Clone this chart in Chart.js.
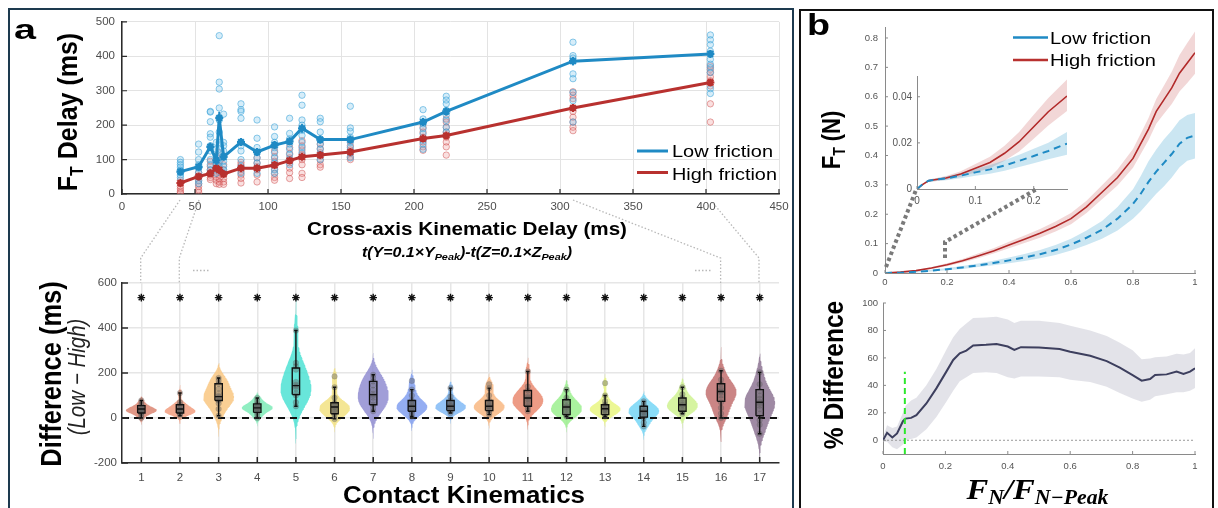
<!DOCTYPE html>
<html><head><meta charset="utf-8">
<script src="https://cdn.jsdelivr.net/npm/chart.js@4.4.1/dist/chart.umd.min.js"></script>
<style>
html,body{margin:0;padding:0;background:#fff;}
#stage{position:relative;width:1218px;height:508px;overflow:hidden;background:#fff;}
canvas{position:absolute;}
.frame{position:absolute;box-sizing:border-box;}
svg{position:absolute;left:0;top:0;pointer-events:none;}
</style></head><body>
<div id="stage">
<div class="frame" style="left:8px;top:8px;width:786px;height:560px;border:2px solid #1d3a4f;"></div>
<div class="frame" style="left:799px;top:9px;width:415px;height:560px;border:2px solid #111;"></div>
<canvas id="a1" width="732" height="212" style="left:70px;top:8px"></canvas>
<canvas id="a2" width="732" height="215" style="left:70px;top:270px"></canvas>
<canvas id="b1" width="370" height="280" style="left:845px;top:15px"></canvas>
<canvas id="b2" width="370" height="186" style="left:845px;top:292px"></canvas>
<canvas id="bi" width="195" height="146" style="left:880px;top:64px"></canvas>
<svg width="1218" height="508" font-family="'Liberation Sans', Arial, sans-serif">
  <!-- panel a connectors -->
  <g fill="none" stroke="#b8b8b8" stroke-width="1.3" stroke-dasharray="1.5 2">
    <polyline points="180,200 140.7,258 140.7,283"/>
    <polyline points="199,200 179.3,258 179.3,283"/>
    <polyline points="573,200 720.6,258 720.6,283"/>
    <polyline points="713,203 759,258 759,283"/>
    <line x1="193" y1="270.5" x2="210" y2="270.5"/>
    <line x1="695" y1="270.5" x2="712" y2="270.5"/>
  </g>
  <!-- panel b connectors -->
  <g fill="none" stroke="#7a7a7a" stroke-width="4" stroke-dasharray="3.5 3">
    <polyline points="886,267 916,190"/>
    <polyline points="945,258 945,242 1037,189"/>
  </g>
  <!-- panel letters -->
  <text x="14" y="39" font-size="28" font-weight="bold" textLength="22" lengthAdjust="spacingAndGlyphs">a</text>
  <text x="807" y="35" font-size="30" font-weight="bold" textLength="23" lengthAdjust="spacingAndGlyphs">b</text>
  <!-- panel a titles -->
  <g transform="translate(77,112) scale(1.13,1) rotate(-90)">
    <text x="0" y="0" text-anchor="middle" font-size="25" font-weight="bold">F<tspan font-size="16" dy="5">T</tspan><tspan dy="-5"> Delay (ms)</tspan></text>
  </g>
  <text x="467" y="235" text-anchor="middle" font-size="18.6" font-weight="bold" textLength="320" lengthAdjust="spacingAndGlyphs">Cross-axis Kinematic Delay (ms)</text>
  <text x="467" y="257" text-anchor="middle" font-size="14" font-weight="bold" font-style="italic" textLength="210" lengthAdjust="spacingAndGlyphs">t(Y=0.1×Y<tspan font-size="9.5" dy="3">Peak</tspan><tspan dy="-3">)-t(Z=0.1×Z</tspan><tspan font-size="9.5" dy="3">Peak</tspan><tspan dy="-3">)</tspan></text>
  <line x1="637" y1="151" x2="668" y2="151" stroke="#1f8ac4" stroke-width="3"/>
  <line x1="637" y1="172.5" x2="668" y2="172.5" stroke="#b8312f" stroke-width="3"/>
  <text x="672" y="157" font-size="17" textLength="101" lengthAdjust="spacingAndGlyphs">Low friction</text>
  <text x="672" y="179.5" font-size="17" textLength="105" lengthAdjust="spacingAndGlyphs">High friction</text>
  <g transform="translate(61,374) scale(1.13,1) rotate(-90)">
    <text x="0" y="0" text-anchor="middle" font-size="25.5" font-weight="bold">Difference (ms)</text>
  </g>
  <g transform="translate(84.5,377) scale(1.13,1) rotate(-90)">
    <text x="0" y="0" text-anchor="middle" font-size="20.5" font-style="italic" fill="#222">(Low − High)</text>
  </g>
  <text x="464" y="503" text-anchor="middle" font-size="23" font-weight="bold" textLength="242" lengthAdjust="spacingAndGlyphs">Contact Kinematics</text>
  <!-- panel b titles -->
  <line x1="1013" y1="37.5" x2="1048" y2="37.5" stroke="#1f8ac4" stroke-width="2.5"/>
  <line x1="1013" y1="60" x2="1048" y2="60" stroke="#b8312f" stroke-width="2.5"/>
  <text x="1050" y="43.5" font-size="17" textLength="101" lengthAdjust="spacingAndGlyphs">Low friction</text>
  <text x="1050" y="66" font-size="17" textLength="106" lengthAdjust="spacingAndGlyphs">High friction</text>
  <g transform="translate(840,140) scale(1.13,1) rotate(-90)">
    <text x="0" y="0" text-anchor="middle" font-size="22" font-weight="bold">F<tspan font-size="14" dy="4">T</tspan><tspan dy="-4"> (N)</tspan></text>
  </g>
  <g transform="translate(843,375) scale(1.13,1) rotate(-90)">
    <text x="0" y="0" text-anchor="middle" font-size="24.5" font-weight="bold">% Difference</text>
  </g>
  <text x="1037.5" y="499" text-anchor="middle" font-family="'Liberation Serif', 'DejaVu Serif', serif" font-size="30" font-weight="bold" font-style="italic" textLength="142" lengthAdjust="spacingAndGlyphs">F<tspan font-size="20" dy="5">N</tspan><tspan dy="-5">/F</tspan><tspan font-size="20" dy="5">N−Peak</tspan></text>
</svg>
</div>
<script>
// ---------------- Panel a (top): F_T delay vs cross-axis kinematic delay ----------------
const kinDelay = [40, 52.5, 60.5, 64.6, 66.6, 69.6, 81.5, 92.5, 104.5, 114.8, 123.3, 135.8, 156.4, 206.2, 222.1, 308.9, 403];
const lowMean  = [65, 79, 137, 98, 221, 108, 151, 122, 142, 153, 191, 158, 158, 209, 240, 386, 407];
const highMean = [32, 51, 60, 75, 70, 58, 75, 75, 84, 97, 108, 113, 122, 161, 170, 250, 324];
const lowSE  = [10, 11, 12, 12, 18, 11, 11, 11, 11, 11, 12, 11, 11, 11, 11, 12, 11];
const highSE = [7, 8, 8, 9, 10, 8, 8, 8, 8, 8, 9, 8, 8, 8, 8, 9, 8];
const lowPts = [
  [100, 92, 85, 78, 70, 62, 55, 48],
  [145, 122, 100, 85, 75, 62, 50, 38, 30],
  [240, 238, 210, 175, 165, 140, 125, 100, 85, 70, 60],
  [150, 130, 110, 95, 85, 70, 60],
  [460, 325, 305, 250, 215, 180, 150, 130, 110, 90, 80],
  [232, 150, 140, 125, 110, 95, 80, 70, 60],
  [262, 245, 240, 220, 150, 140, 125, 100, 80, 60],
  [215, 162, 135, 120, 105, 90, 75, 60],
  [195, 167, 150, 135, 120, 105, 90, 70, 60],
  [220, 176, 160, 145, 130, 115, 100, 85],
  [287, 258, 215, 200, 185, 170, 150, 135, 120],
  [220, 210, 180, 160, 145, 130, 115, 100],
  [255, 192, 182, 165, 150, 135, 120, 105],
  [245, 218, 204, 190, 175, 156, 145, 130],
  [284, 273, 262, 243, 229, 214, 194, 180],
  [441, 402, 395, 349, 335, 295, 271, 209],
  [462, 448, 434, 415, 391, 377, 367, 353, 306, 292]
];
const highPts = [
  [40, 30, 22, 15, 8, 3],
  [62, 48, 40, 30, 22, 12, 5],
  [95, 80, 70, 62, 55, 48, 42],
  [110, 90, 75, 60, 50, 40, 30],
  [120, 95, 80, 65, 55, 45, 35, 28],
  [85, 70, 58, 45, 35, 28],
  [92, 85, 75, 65, 55, 45, 32],
  [105, 90, 80, 70, 55, 35],
  [125, 108, 95, 85, 72, 60, 48, 40],
  [135, 118, 105, 90, 75, 62, 45],
  [155, 140, 128, 115, 100, 85, 60, 48],
  [145, 132, 120, 110, 98, 85, 78],
  [155, 140, 128, 118, 108, 100],
  [194, 180, 165, 151, 137, 127],
  [218, 209, 194, 180, 165, 151, 137, 113],
  [297, 287, 277, 240, 223, 209, 194, 184],
  [372, 362, 353, 340, 329, 314, 262, 209]
];
const aTopXTicks = [0, 50, 100, 150, 200, 250, 300, 350, 400, 450];
const aTopYTicks = [0, 100, 200, 300, 400, 500];

// ---------------- Panel a (bottom): violins of Low - High difference ----------------
const catIdx = [1, 2, 3, 4, 5, 6, 7, 8, 9, 10, 11, 12, 13, 14, 15, 16, 17];
const diffPts = [
  [0, 12, 20, 24, 28, 30, 32, 35, 38, 40, 44, 48, 55, 62, 78],
  [10, 18, 22, 25, 28, 30, 35, 40, 45, 50, 59, 70, 111],
  [10, 40, 65, 78, 85, 92, 98, 110, 130, 152, 165, 178],
  [0, 15, 25, 32, 38, 42, 45, 48, 52, 58, 63, 75, 89],
  [52, 70, 100, 110, 130, 140, 148, 160, 215, 230, 245, 389],
  [-4, 10, 20, 28, 35, 42, 49, 55, 62, 68, 90, 137, 185],
  [30, 45, 60, 75, 90, 100, 108, 125, 145, 163, 178, 192],
  [7, 20, 30, 38, 45, 50, 55, 62, 70, 78, 100, 126, 165],
  [22, 30, 35, 42, 48, 52, 55, 60, 68, 78, 95, 133],
  [15, 25, 33, 40, 46, 52, 56, 62, 70, 78, 100, 133, 150],
  [30, 42, 52, 62, 72, 82, 89, 95, 105, 122, 140, 207],
  [7, 12, 18, 28, 38, 45, 50, 55, 65, 78, 90, 126],
  [7, 15, 22, 30, 35, 40, 43, 48, 55, 60, 75, 100, 155],
  [-37, -20, 0, 8, 18, 26, 30, 35, 42, 50, 60, 74],
  [19, 28, 35, 45, 52, 58, 62, 70, 80, 89, 105, 137],
  [0, 20, 45, 70, 85, 100, 112, 118, 125, 135, 150, 170, 210],
  [-70, -30, -10, 20, 40, 55, 65, 72, 85, 100, 120, 150, 203]
];
const boxQ1   = [22, 22, 78, 25, 104, 19, 59, 30, 33, 33, 52, 15, 15, 4, 30, 74, 10];
const boxMed  = [40, 40, 95, 45, 144, 49, 104, 52, 52, 52, 89, 49, 41, 30, 59, 118, 70];
const boxQ3   = [55, 59, 152, 63, 222, 68, 163, 78, 78, 78, 122, 81, 59, 52, 89, 152, 126];
const whiskLo = [0, 10, 10, 0, 52, -4, 30, 7, 22, 15, 30, 7, 7, -37, 19, 0, -70];
const whiskHi = [78, 111, 178, 89, 389, 137, 192, 126, 133, 133, 207, 126, 100, 74, 137, 210, 203];
const sigStarY = 535;
const violinColors = ['#d9806b', '#f29a7a', '#f9c47c', '#78eab4', '#47e0d2', '#f2e07c', '#8c89cf', '#7c9bef', '#7cb7f5',
                      '#f8b57c', '#e9856a', '#97ef8a', '#e8f57c', '#70d4f5', '#cdf28c', '#c06a6a', '#8a7090'];
const aBotYTicks = [-200, 0, 200, 400, 600];

// ---------------- Panel b (top): F_T vs F_N/F_N-peak ----------------
const fnX = [0, 0.05, 0.1, 0.15, 0.2, 0.25, 0.3, 0.35, 0.4, 0.45, 0.5, 0.55, 0.6, 0.65, 0.7, 0.75, 0.8, 0.825, 0.85, 0.875, 0.9, 0.925, 0.95, 0.975, 1.0];
const highFT   = [0, 0.003, 0.008, 0.017, 0.028, 0.042, 0.058, 0.075, 0.095, 0.115, 0.135, 0.158, 0.185, 0.225, 0.275, 0.325, 0.39, 0.44, 0.49, 0.55, 0.59, 0.63, 0.68, 0.715, 0.75];
const highFTup = [0, 0.004, 0.01, 0.02, 0.033, 0.048, 0.066, 0.084, 0.106, 0.128, 0.15, 0.175, 0.204, 0.246, 0.299, 0.352, 0.422, 0.475, 0.528, 0.592, 0.638, 0.685, 0.742, 0.783, 0.822];
const highFTlo = [0, 0.002, 0.006, 0.014, 0.023, 0.036, 0.05, 0.066, 0.084, 0.102, 0.12, 0.141, 0.166, 0.204, 0.251, 0.298, 0.358, 0.405, 0.452, 0.508, 0.542, 0.575, 0.618, 0.647, 0.678];
const lowFT    = [0, 0.001, 0.004, 0.008, 0.013, 0.019, 0.026, 0.034, 0.043, 0.053, 0.064, 0.078, 0.097, 0.12, 0.147, 0.185, 0.235, 0.27, 0.31, 0.345, 0.375, 0.405, 0.44, 0.46, 0.468];
const lowFTup  = [0, 0.002, 0.006, 0.011, 0.017, 0.024, 0.032, 0.042, 0.053, 0.065, 0.078, 0.095, 0.117, 0.145, 0.177, 0.225, 0.285, 0.33, 0.38, 0.42, 0.455, 0.485, 0.52, 0.538, 0.545];
const lowFTlo  = [0, 0, 0.002, 0.005, 0.009, 0.014, 0.02, 0.026, 0.033, 0.041, 0.05, 0.061, 0.077, 0.095, 0.117, 0.145, 0.185, 0.21, 0.24, 0.27, 0.295, 0.325, 0.36, 0.382, 0.39];
const bTopXTicks = [0, 0.2, 0.4, 0.6, 0.8, 1];
const bTopYTicks = [0, 0.1, 0.2, 0.3, 0.4, 0.5, 0.6, 0.7, 0.8];

// inset (zoom on the start of the curves)
const insX = [0, 0.01, 0.02, 0.03, 0.05, 0.075, 0.1, 0.125, 0.15, 0.175, 0.2, 0.225, 0.257];
const insHigh   = [0, 0.002, 0.0036, 0.004, 0.0048, 0.0065, 0.009, 0.0115, 0.0155, 0.0205, 0.027, 0.0335, 0.0403];
const insHighUp = [0, 0.0023, 0.0041, 0.0046, 0.0056, 0.0077, 0.0108, 0.014, 0.0188, 0.0247, 0.0322, 0.0395, 0.0475];
const insHighLo = [0, 0.0017, 0.0031, 0.0034, 0.004, 0.0053, 0.0072, 0.009, 0.0122, 0.0163, 0.0218, 0.0275, 0.0338];
const insLow    = [0, 0.0022, 0.0036, 0.004, 0.0046, 0.0058, 0.0072, 0.0085, 0.0102, 0.0122, 0.0143, 0.0165, 0.0197];
const insLowUp  = [0, 0.0025, 0.0041, 0.0046, 0.0054, 0.0069, 0.0087, 0.0104, 0.0125, 0.0149, 0.0174, 0.0201, 0.0247];
const insLowLo  = [0, 0.0019, 0.0031, 0.0034, 0.0038, 0.0047, 0.0057, 0.0066, 0.0079, 0.0095, 0.0112, 0.0129, 0.0149];
const insXTicks = [0, 0.1, 0.2];
const insYTicks = [0, 0.02, 0.04];

// ---------------- Panel b (bottom): % difference ----------------
const pdX = [0, 0.013, 0.03, 0.045, 0.064, 0.072, 0.09, 0.107, 0.139, 0.171, 0.203, 0.225, 0.246, 0.267, 0.289, 0.33, 0.364, 0.4, 0.421, 0.442, 0.5, 0.566, 0.6, 0.664, 0.717, 0.759, 0.8, 0.829, 0.856, 0.872, 0.909, 0.941, 0.963, 0.984, 1.0];
const pdMean = [0, 5.4, 2, 5, 13.9, 15.8, 16.3, 18.3, 26.8, 37.8, 50, 58.5, 63.4, 65.3, 69, 69.5, 70.2, 68.3, 65.8, 67.8, 67.5, 66.5, 64.5, 61.6, 57.7, 52.9, 47.5, 43.4, 44.6, 47.5, 48, 50, 48.3, 50, 52.4];
const pdUp   = [2, 11, 9, 10, 20, 25, 29, 31, 40, 52, 66, 75, 81, 85, 89, 89.5, 90, 88, 85.5, 87, 87, 85.5, 83.5, 80, 76, 71, 65.5, 59, 59.5, 60.5, 61, 63, 62.5, 63.5, 67];
const pdLo   = [-1, -1, -5, -6.5, -3, 0, 1, 2, 8, 17, 28, 36, 43, 46, 49, 49.5, 49, 46, 45, 46.5, 46.5, 46, 44, 42.5, 39, 34.5, 30.5, 28, 29.5, 32, 33.5, 35, 35, 36, 38];
const greenMarkX = 0.07, greenMarkTop = 50;
const bBotXTicks = [0, 0.2, 0.4, 0.6, 0.8, 1];
const bBotYTicks = [0, 20, 40, 60, 80, 100];

// ---------------- helpers ----------------
const BLUE = '#1f8ac4', RED = '#b8312f';
const GAP = () => ({x: NaN, y: NaN});
const pairs = (xs, ys) => xs.map((x, i) => ({x: x, y: ys[i]}));
function groupPts(xs, groups) { const o = []; groups.forEach((g, i) => g.forEach(v => o.push({x: xs[i], y: v}))); return o; }
function errSegs(xs, m, e) { const o = []; xs.forEach((x, i) => { o.push({x: x, y: m[i] - e[i]}, {x: x, y: m[i] + e[i]}, GAP()); }); return o; }
function quant(s, p) { const k = (s.length - 1) * p, f = Math.floor(k), c = Math.ceil(k); return s[f] + (s[c] - s[f]) * (k - f); }
function violinShape(cx, data, halfW) {
  const s = [...data].sort((a, b) => a - b), n = s.length;
  const med = quant(s, 0.5);
  const mad = quant(s.map(v => Math.abs(v - med)).sort((a, b) => a - b), 0.5);
  const h = (mad / 0.6745) * Math.pow(4 / (3 * n), 0.2);
  const lo = s[0] - 3 * h, hi = s[n - 1] + 3 * h, N = 140;
  const ys = [], ds = [];
  for (let k = 0; k < N; k++) {
    const y = lo + (hi - lo) * k / (N - 1); let d = 0;
    for (const p of data) { const z = (y - p) / h; d += Math.exp(-0.5 * z * z); }
    ys.push(y); ds.push(d);
  }
  const m = Math.max(...ds);
  const right = ys.map((y, k) => ({x: cx + halfW * ds[k] / m, y: y}));
  const left = ys.map((y, k) => ({x: cx - halfW * ds[k] / m, y: y})).reverse();
  return right.concat(left);
}
function boxSegs(bw, cw) {
  const o = [];
  catIdx.forEach((c, i) => {
    o.push({x: c - bw, y: boxQ1[i]}, {x: c + bw, y: boxQ1[i]}, {x: c + bw, y: boxQ3[i]}, {x: c - bw, y: boxQ3[i]}, {x: c - bw, y: boxQ1[i]}, GAP());
    o.push({x: c - bw, y: boxMed[i]}, {x: c + bw, y: boxMed[i]}, GAP());
    o.push({x: c, y: boxQ3[i]}, {x: c, y: whiskHi[i]}, GAP(), {x: c - cw, y: whiskHi[i]}, {x: c + cw, y: whiskHi[i]}, GAP());
    o.push({x: c, y: boxQ1[i]}, {x: c, y: whiskLo[i]}, GAP(), {x: c - cw, y: whiskLo[i]}, {x: c + cw, y: whiskLo[i]}, GAP());
  });
  return o;
}
function hexA(hex, a) { const n = parseInt(hex.slice(1), 16); return `rgba(${n >> 16},${(n >> 8) & 255},${n & 255},${a})`; }
const fmt = v => String(+(+v).toFixed(4));

const inTicks = {
  id: 'inTicks',
  afterDraw(chart, args, opts) {
    if (!opts || !opts.len) return;
    const ctx = chart.ctx, a = chart.chartArea, xs = chart.scales.x, ys = chart.scales.y;
    ctx.save(); ctx.strokeStyle = opts.color; ctx.lineWidth = opts.width || 1; ctx.beginPath();
    xs.ticks.forEach(t => { const p = xs.getPixelForValue(t.value); ctx.moveTo(p, a.bottom); ctx.lineTo(p, a.bottom - opts.len); });
    ys.ticks.forEach(t => { const p = ys.getPixelForValue(t.value); ctx.moveTo(a.left, p); ctx.lineTo(a.left + opts.len, p); });
    ctx.stroke(); ctx.restore();
  }
};
Chart.register(inTicks);
Chart.defaults.font.family = "'Liberation Sans', Arial, sans-serif";

function axis(o) {
  return {
    type: 'linear', min: o.min, max: o.max,
    afterBuildTicks: s => { s.ticks = o.ticks.map(v => ({value: v})); },
    afterFit: s => { if (o.w != null) s.width = o.w; if (o.h != null) s.height = o.h; },
    grid: {display: !!o.grid, color: o.grid || 'transparent', lineWidth: o.gridW || 1, drawTicks: false},
    border: {display: true, color: o.border, width: o.borderW || 1},
    ticks: {padding: o.pad, font: {size: o.fs}, color: o.color || '#4d4d4d', maxRotation: 0, autoSkip: false, callback: v => fmt(v)}
  };
}
function baseOptions(pad, xAx, yAx, tickOpts) {
  return {
    responsive: false, animation: false, devicePixelRatio: 1,
    layout: {padding: pad},
    plugins: {legend: {display: false}, tooltip: {enabled: false}, inTicks: tickOpts},
    elements: {line: {tension: 0}},
    scales: {x: xAx, y: yAx}
  };
}

// ---------- chart a1 ----------
new Chart(document.getElementById('a1'), {
  type: 'scatter',
  data: {datasets: [
    {data: errSegs(kinDelay, lowMean, lowSE), showLine: true, borderColor: BLUE, borderWidth: 2, pointRadius: 0, order: 1},
    {data: errSegs(kinDelay, highMean, highSE), showLine: true, borderColor: RED, borderWidth: 2, pointRadius: 0, order: 1},
    {data: pairs(kinDelay, lowMean), showLine: true, borderColor: BLUE, backgroundColor: BLUE, borderWidth: 3, pointStyle: 'star', pointRadius: 4, pointBorderWidth: 2.2, order: 2},
    {data: pairs(kinDelay, highMean), showLine: true, borderColor: RED, backgroundColor: RED, borderWidth: 3, pointStyle: 'star', pointRadius: 4, pointBorderWidth: 2.2, order: 3},
    {data: groupPts(kinDelay, lowPts), pointRadius: 3.2, backgroundColor: 'rgba(120,195,235,0.3)', borderColor: 'rgba(55,160,215,0.55)', borderWidth: 1, order: 4},
    {data: groupPts(kinDelay, highPts), pointRadius: 3.2, backgroundColor: 'rgba(235,130,130,0.25)', borderColor: 'rgba(205,80,80,0.5)', borderWidth: 1, order: 5}
  ]},
  options: baseOptions({top: 13, right: 23, left: 0, bottom: 0},
    axis({min: 0, max: 450, ticks: aTopXTicks, h: 26, grid: '#e3e3e3', border: '#2b2b2b', borderW: 1.5, pad: 6, fs: 11.5}),
    axis({min: 0, max: 500, ticks: aTopYTicks, w: 52, grid: '#e3e3e3', border: '#2b2b2b', borderW: 1.5, pad: 7, fs: 11.5}),
    {len: 5, color: '#2b2b2b', width: 1.2})
});

// ---------- chart a2 ----------
const violinSets = catIdx.map((c, i) => ({
  data: violinShape(c, diffPts[i], 0.4), showLine: true, fill: 'shape', borderWidth: 0,
  backgroundColor: hexA(violinColors[i], 0.82), borderColor: 'transparent', pointRadius: 0, order: 10
}));
new Chart(document.getElementById('a2'), {
  type: 'scatter',
  data: {datasets: [
    {data: catIdx.map(c => ({x: c, y: sigStarY})), pointStyle: 'star', pointRadius: 3.8, borderColor: '#111', borderWidth: 1.4, order: 0},
    {data: boxSegs(0.095, 0.045), showLine: true, borderColor: '#111', borderWidth: 1.4, pointRadius: 0, order: 1},
    {data: groupPts(catIdx, diffPts), pointRadius: 2.8, backgroundColor: 'rgba(95,95,95,0.4)', borderColor: 'rgba(80,80,80,0.3)', borderWidth: 0.5, order: 2},
    {data: [{x: 0.5, y: 0}, {x: 17.5, y: 0}], showLine: true, borderColor: '#111', borderWidth: 2, borderDash: [7, 5], pointRadius: 0, order: 3},
    ...violinSets
  ]},
  options: baseOptions({top: 13, right: 23, left: 0, bottom: 0},
    axis({min: 0.5, max: 17.5, ticks: catIdx, h: 22, grid: '#e6e6e6', gridW: 1.5, border: '#2b2b2b', borderW: 1.5, pad: 8, fs: 11.5}),
    axis({min: -200, max: 600, ticks: aBotYTicks, w: 52, grid: '#e6e6e6', gridW: 1.5, border: '#2b2b2b', borderW: 1.5, pad: 5, fs: 11.5}),
    {len: 6, color: '#2b2b2b', width: 1.5})
});

// ---------- chart b1 ----------
new Chart(document.getElementById('b1'), {
  type: 'scatter',
  data: {datasets: [
    {data: pairs(fnX, highFTup), showLine: true, borderWidth: 0, pointRadius: 0, order: 5},
    {data: pairs(fnX, highFTlo), showLine: true, borderWidth: 0, pointRadius: 0, fill: '-1', backgroundColor: 'rgba(205,95,95,0.25)', order: 5},
    {data: pairs(fnX, lowFTup), showLine: true, borderWidth: 0, pointRadius: 0, order: 4},
    {data: pairs(fnX, lowFTlo), showLine: true, borderWidth: 0, pointRadius: 0, fill: '-1', backgroundColor: 'rgba(70,165,210,0.28)', order: 4},
    {data: pairs(fnX, highFT), showLine: true, borderColor: '#b22a2a', borderWidth: 1.6, pointRadius: 0, order: 1},
    {data: pairs(fnX, lowFT), showLine: true, borderColor: BLUE, borderWidth: 2, borderDash: [7, 5], pointRadius: 0, order: 0}
  ]},
  options: baseOptions({top: 12, right: 20, left: 0, bottom: 0},
    axis({min: 0, max: 1, ticks: bTopXTicks, h: 22, border: '#8a8a8a', pad: 4, fs: 9.5, color: '#555'}),
    axis({min: 0, max: 0.835, ticks: bTopYTicks, w: 40, border: '#8a8a8a', pad: 7, fs: 9.5, color: '#555'}),
    {len: 3, color: '#8a8a8a', width: 1})
});

// ---------- chart bi (inset) ----------
new Chart(document.getElementById('bi'), {
  type: 'scatter',
  data: {datasets: [
    {data: pairs(insX, insHighUp), showLine: true, borderWidth: 0, pointRadius: 0, order: 5},
    {data: pairs(insX, insHighLo), showLine: true, borderWidth: 0, pointRadius: 0, fill: '-1', backgroundColor: 'rgba(205,95,95,0.25)', order: 5},
    {data: pairs(insX, insLowUp), showLine: true, borderWidth: 0, pointRadius: 0, order: 4},
    {data: pairs(insX, insLowLo), showLine: true, borderWidth: 0, pointRadius: 0, fill: '-1', backgroundColor: 'rgba(70,165,210,0.28)', order: 4},
    {data: pairs(insX, insHigh), showLine: true, borderColor: '#b22a2a', borderWidth: 1.6, pointRadius: 0, order: 1},
    {data: pairs(insX, insLow), showLine: true, borderColor: BLUE, borderWidth: 2, borderDash: [7, 5], pointRadius: 0, order: 0}
  ]},
  options: baseOptions({top: 12, right: 8, left: 0, bottom: 0},
    axis({min: 0, max: 0.257, ticks: insXTicks, h: 21, border: '#8a8a8a', pad: 6, fs: 10, color: '#555'}),
    axis({min: 0, max: 0.049, ticks: insYTicks, w: 37, border: '#8a8a8a', pad: 5, fs: 10, color: '#555'}),
    {len: 3, color: '#8a8a8a', width: 1})
});

// ---------- chart b2 ----------
new Chart(document.getElementById('b2'), {
  type: 'scatter',
  data: {datasets: [
    {data: pairs(pdX, pdUp), showLine: true, borderWidth: 0, pointRadius: 0, order: 5},
    {data: pairs(pdX, pdLo), showLine: true, borderWidth: 0, pointRadius: 0, fill: '-1', backgroundColor: 'rgba(200,200,212,0.5)', order: 5},
    {data: pairs(pdX, pdMean), showLine: true, borderColor: '#3d3f5e', borderWidth: 2, pointRadius: 0, order: 1},
    {data: [{x: 0, y: 0}, {x: 1, y: 0}], showLine: true, borderColor: '#9a9a9a', borderWidth: 1, borderDash: [2, 2], pointRadius: 0, order: 2},
    {data: [{x: greenMarkX, y: -10}, {x: greenMarkX, y: greenMarkTop}], showLine: true, borderColor: '#2ee82e', borderWidth: 2, borderDash: [6, 4], pointRadius: 0, order: 0}
  ]},
  options: baseOptions({top: 11, right: 20, left: 0, bottom: 0},
    axis({min: 0, max: 1, ticks: bBotXTicks, h: 24, border: '#8a8a8a', pad: 7, fs: 9.5, color: '#555'}),
    axis({min: -10, max: 100, ticks: bBotYTicks, w: 38, border: '#8a8a8a', pad: 5, fs: 9.5, color: '#555'}),
    {len: 3, color: '#8a8a8a', width: 1})
});
</script>
</body></html>
